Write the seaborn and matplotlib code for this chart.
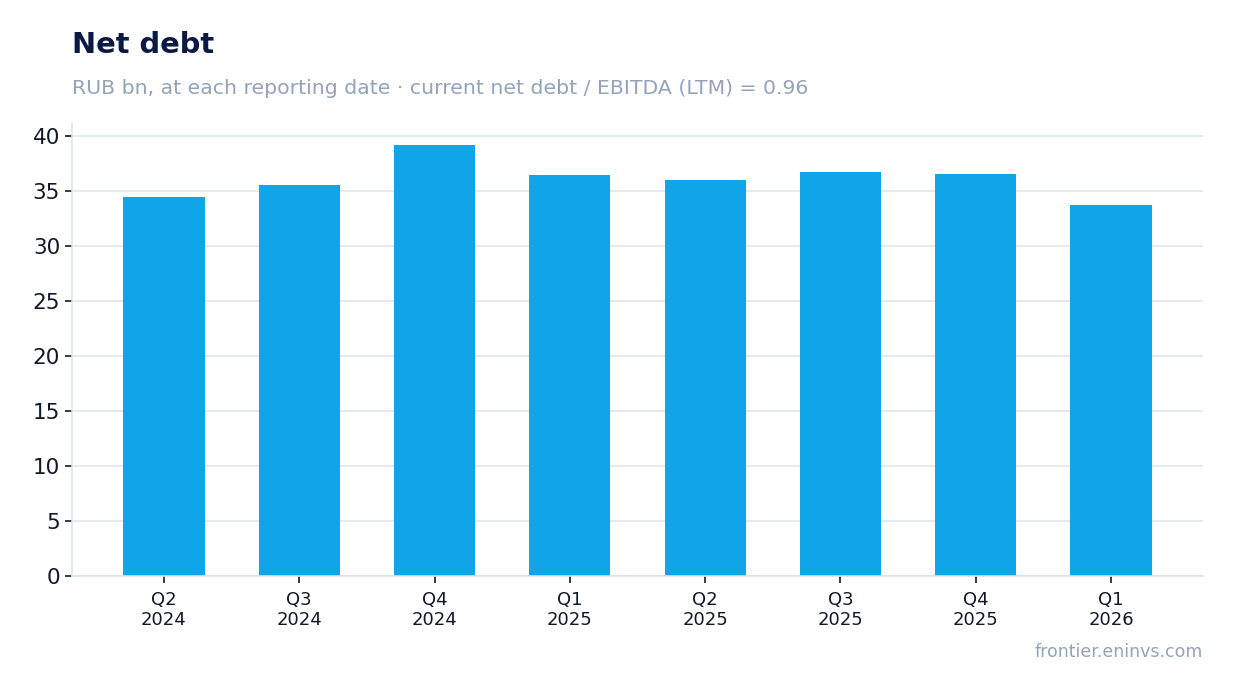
import matplotlib
matplotlib.use("Agg")
import matplotlib.pyplot as plt
import seaborn as sns
import pandas as pd

quarters = ["Q2\n2024", "Q3\n2024", "Q4\n2024", "Q1\n2025",
            "Q2\n2025", "Q3\n2025", "Q4\n2025", "Q1\n2026"]
net_debt = [34.4, 35.5, 39.2, 36.4, 36.0, 36.7, 36.5, 33.7]

df = pd.DataFrame({"quarter": quarters, "net_debt": net_debt})

sns.set_theme(style="white")
plt.rcParams["font.family"] = ["DejaVu Sans"]

fig = plt.figure(figsize=(12.34, 6.93), dpi=100)
ax = fig.add_axes([0.0583, 0.1688, 0.9166, 0.6537])

sns.barplot(data=df, x="quarter", y="net_debt", color="#10a5e8",
            width=0.6, saturation=1, linewidth=0, ax=ax)

ax.set_ylim(0, 41.16)
ax.set_xlim(-0.68, 7.68)
ax.set_yticks(range(0, 41, 5))
ax.set_xlabel("")
ax.set_ylabel("")

ax.yaxis.grid(True, color="#e5e9f0", linewidth=1.5)
ax.set_axisbelow(True)
for side in ["top", "right"]:
    ax.spines[side].set_visible(False)
for side in ["left", "bottom"]:
    ax.spines[side].set_color("#dde2ea")
    ax.spines[side].set_linewidth(1.2)

ax.tick_params(axis="y", labelsize=15.5, colors="#111827", length=5,
               width=1.2, left=True)
ax.tick_params(axis="x", labelsize=13, colors="#111827", length=5,
               width=1.2, bottom=True, pad=5.5)
for t in ax.get_xticklines() + ax.get_yticklines():
    t.set_color("#4a4d5e")

fig.text(0.0583, 0.935, "Net debt", fontsize=20.8, fontweight="bold",
         color="#0b1a45", ha="left", va="center")
fig.text(0.0583, 0.873, "RUB bn, at each reporting date \u00b7 current net debt / EBITDA (LTM) = 0.96",
         fontsize=14.7, color="#94a3b8", ha="left", va="center")
fig.text(0.9749, 0.0455, "frontier.eninvs.com", fontsize=12.5,
         color="#94a3b8", ha="right", va="bottom")

fig.savefig("out.png", dpi=100)
plt.close(fig)
